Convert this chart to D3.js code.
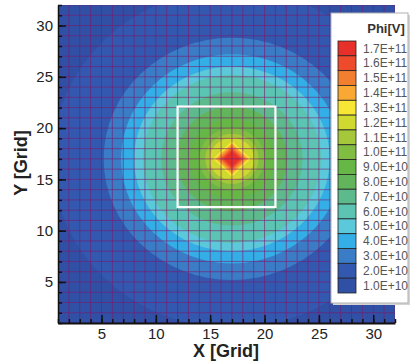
<!DOCTYPE html>
<html>
<head>
<meta charset="utf-8">
<script src="https://cdn.jsdelivr.net/npm/d3@7"></script>
<style>
  body { margin: 0; background: #fff; }
  text { font-family: "Liberation Sans", Arial, sans-serif; }
</style>
</head>
<body>
<div id="chart"></div>
<script>
// contour levels, top of the legend first
const levels = [1.7e11, 1.6e11, 1.5e11, 1.4e11, 1.3e11, 1.2e11, 1.1e11, 1.0e11, 9.0e10,
                8.0e10, 7.0e10, 6.0e10, 5.0e10, 4.0e10, 3.0e10, 2.0e10, 1.0e10];
const levelColors = ['#e8302b', '#ee4b2d', '#f27f30', '#f9a933', '#f8e634', '#cfd930', '#a5c83a',
                     '#80bd42', '#66b746', '#62b55a', '#5dba8c', '#5bc4b3', '#5bc9da', '#33aee6',
                     '#3a7cc6', '#3358b0', '#3050a6'];
// outer edge of each filled band, in grid units from the peak
const bandRadius = [0.75, 1.0, 1.25, 1.5, 1.75, 2.05, 2.45, 3.0, 3.9, 5.1, 6.5, 8.2, 9.0, 10.2, 11.8, 16.5, null];
const bandShape = ['diamond', 'diamond', 'diamond', 'diamond', 'diamond', 'circle', 'circle', 'circle', 'circle',
                   'circle', 'circle', 'circle', 'circle', 'circle', 'circle', 'circle', 'circle'];
const peak = [17, 17];
const boxX = [12, 21];
const boxY = [12.3, 22.1];
const gridRange = [1, 32];
const xTicks = [5, 10, 15, 20, 25, 30];
const yTicks = [5, 10, 15, 20, 25, 30];

const width = 416, height = 361;
const svg = d3.select('#chart').append('svg')
  .attr('width', width).attr('height', height);

const x = d3.scaleLinear().domain(gridRange).range([58, 395]);
const y = d3.scaleLinear().domain(gridRange).range([323, 5]);

svg.append('clipPath').attr('id', 'plotClip')
  .append('rect')
  .attr('x', x(gridRange[0])).attr('y', y(gridRange[1]))
  .attr('width', x(gridRange[1]) - x(gridRange[0]))
  .attr('height', y(gridRange[0]) - y(gridRange[1]));

const plot = svg.append('g').attr('clip-path', 'url(#plotClip)');

// background = lowest level
plot.append('rect')
  .attr('x', x(gridRange[0])).attr('y', y(gridRange[1]))
  .attr('width', x(gridRange[1]) - x(gridRange[0]))
  .attr('height', y(gridRange[0]) - y(gridRange[1]))
  .attr('fill', levelColors[levelColors.length - 1]);

const cx = x(peak[0]), cy = y(peak[1]);
const bands = levels.map((v, i) => ({ v, color: levelColors[i], r: bandRadius[i], shape: bandShape[i] }))
  .filter(d => d.r != null)
  .reverse();

plot.selectAll('path.band')
  .data(bands)
  .enter()
  .append('path')
  .attr('class', 'band')
  .attr('d', d => {
    const rx = x(peak[0] + d.r) - cx;
    const ry = cy - y(peak[1] + d.r);
    if (d.shape === 'diamond') {
      return `M${cx},${cy - ry}L${cx + rx},${cy}L${cx},${cy + ry}L${cx - rx},${cy}Z`;
    }
    return `M${cx - rx},${cy}A${rx},${ry} 0 1,0 ${cx + rx},${cy}A${rx},${ry} 0 1,0 ${cx - rx},${cy}Z`;
  })
  .attr('fill', d => d.color);

// mesh lines on every grid index
const gridIdx = d3.range(gridRange[0], gridRange[1] + 1);
plot.selectAll('line.vgrid')
  .data(gridIdx)
  .enter()
  .append('line')
  .attr('x1', d => x(d)).attr('x2', d => x(d))
  .attr('y1', y(gridRange[0])).attr('y2', y(gridRange[1]))
  .attr('stroke', '#7a1a6c').attr('stroke-opacity', 0.6).attr('stroke-width', 1);
plot.selectAll('line.hgrid')
  .data(gridIdx)
  .enter()
  .append('line')
  .attr('y1', d => y(d)).attr('y2', d => y(d))
  .attr('x1', x(gridRange[0])).attr('x2', x(gridRange[1]))
  .attr('stroke', '#7a1a6c').attr('stroke-opacity', 0.6).attr('stroke-width', 1);

// white region box
svg.append('rect')
  .attr('x', x(boxX[0])).attr('y', y(boxY[1]))
  .attr('width', x(boxX[1]) - x(boxX[0]))
  .attr('height', y(boxY[0]) - y(boxY[1]))
  .attr('fill', 'none').attr('stroke', '#fff').attr('stroke-width', 2.2);

// axes: minor ticks on every index, major ticks with labels
function styleAxis(g) {
  g.selectAll('text').style('font-family', '"Liberation Sans", Arial, sans-serif')
    .style('font-size', '15px').attr('fill', '#222');
  g.selectAll('line').attr('stroke', '#111').attr('stroke-width', 1.5);
}
svg.append('g').attr('transform', `translate(${x(gridRange[0])},0)`)
  .call(d3.axisLeft(y).tickValues(gridIdx).tickSize(-4).tickSizeOuter(0).tickFormat(''))
  .call(g => g.select('.domain').remove())
  .call(styleAxis);
svg.append('g').attr('transform', `translate(0,${y(gridRange[0])})`)
  .call(d3.axisBottom(x).tickValues(gridIdx).tickSize(-4).tickSizeOuter(0).tickFormat(''))
  .call(g => g.select('.domain').remove())
  .call(styleAxis);

svg.append('g').attr('transform', `translate(${x(gridRange[0])},0)`)
  .call(d3.axisLeft(y).tickValues(yTicks).tickSize(-8).tickSizeOuter(0).tickPadding(5))
  .call(g => g.select('.domain').attr('stroke', '#111').attr('stroke-width', 1.5))
  .call(styleAxis);
svg.append('g').attr('transform', `translate(0,${y(gridRange[0])})`)
  .call(d3.axisBottom(x).tickValues(xTicks).tickSize(-8).tickSizeOuter(0).tickPadding(5))
  .call(g => g.select('.domain').attr('stroke', '#111').attr('stroke-width', 2))
  .call(styleAxis);

svg.append('text')
  .attr('x', 226).attr('y', 357)
  .attr('text-anchor', 'middle')
  .style('font-size', '18px').style('font-weight', 'bold').attr('fill', '#222')
  .text('X [Grid]');
svg.append('text')
  .attr('transform', 'translate(27,163) rotate(-90)')
  .attr('text-anchor', 'middle')
  .style('font-size', '18px').style('font-weight', 'bold').attr('fill', '#222')
  .text('Y [Grid]');

// legend
const lg = svg.append('g');
lg.append('rect').attr('x', 333).attr('y', 15).attr('width', 77).attr('height', 290).attr('fill', '#d4d4d4');
lg.append('rect').attr('x', 331).attr('y', 13).attr('width', 77).attr('height', 290)
  .attr('fill', '#fff').attr('stroke', '#b0b0b0').attr('stroke-width', 1);
lg.append('text').attr('x', 386).attr('y', 33).attr('text-anchor', 'middle')
  .style('font-size', '13px').style('font-weight', 'bold').attr('fill', '#333')
  .text('Phi[V]');

const ly = d3.scaleBand().domain(levels).range([41, 293]);
const fmt = v => d3.format('.1e')(v).toUpperCase();
lg.selectAll('rect.sw')
  .data(levels)
  .enter()
  .append('rect')
  .attr('class', 'sw')
  .attr('x', 338).attr('y', d => ly(d))
  .attr('width', 18).attr('height', ly.bandwidth())
  .attr('fill', (d, i) => levelColors[i])
  .attr('stroke', '#222').attr('stroke-width', 0.8);
lg.selectAll('text.lab')
  .data(levels)
  .enter()
  .append('text')
  .attr('class', 'lab')
  .attr('x', 363).attr('y', d => ly(d) + ly.bandwidth() / 2)
  .attr('dy', '0.35em')
  .style('font-size', '12px').attr('fill', '#555')
  .text(fmt);
</script>
</body>
</html>
